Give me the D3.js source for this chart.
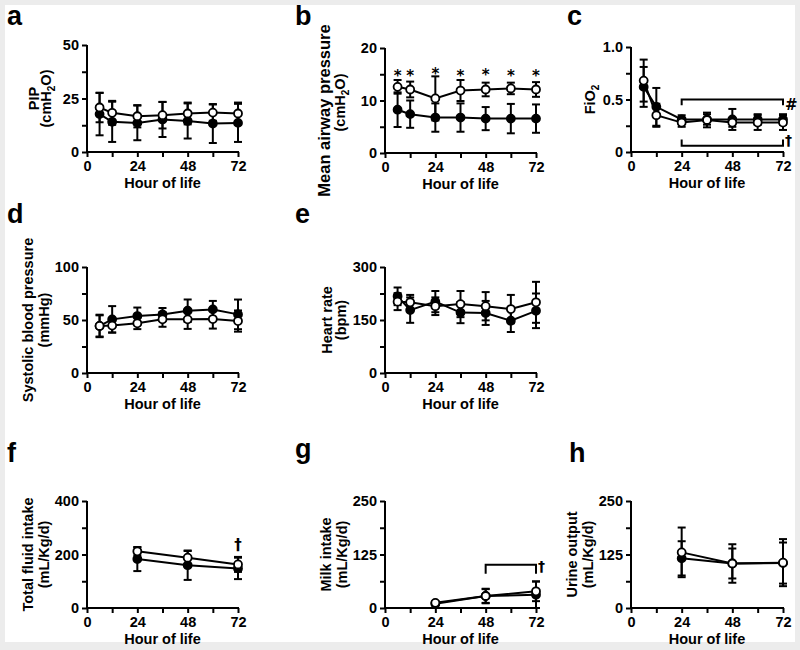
<!DOCTYPE html>
<html>
<head>
<meta charset="utf-8">
<script src="https://cdn.jsdelivr.net/npm/d3@7"></script>
<style>
  html, body { margin: 0; padding: 0; background: #ececec; }
  svg { display: block; }
  text { font-weight: bold; fill: #000; }
</style>
</head>
<body>
<svg id="chart" width="800" height="650"></svg>
<script>
// ---------------- DATA ----------------
const hours = [6, 12, 24, 36, 48, 60, 72];
const hoursDaily = [24, 48, 72];
const xTicks = [0, 12, 24, 36, 48, 60, 72];
const xTickLabels = [0, 24, 48, 72];

// a: PIP (cmH2O)
const pipOpen = [20.8, 18.3, 16.7, 17.2, 18.0, 18.4, 18.0];
const pipOpenSd = [6.9, 5.6, 5.2, 6.2, 5.1, 3.8, 5.1];
const pipFilled = [17.7, 14.1, 13.6, 15.2, 14.5, 13.3, 13.6];
const pipFilledSd = [9.9, 9.4, 8.1, 8.2, 8.2, 9.1, 8.9];
const pipTicks = [0, 25, 50];

// b: Mean airway pressure (cmH2O)
const mapOpen = [12.6, 12.1, 10.4, 11.9, 12.1, 12.3, 12.1];
const mapOpenSd = [1.3, 1.5, 4.2, 2.0, 1.3, 1.1, 1.4];
const mapFilled = [8.25, 7.4, 6.75, 6.75, 6.55, 6.55, 6.55];
const mapFilledSd = [3.3, 2.6, 2.7, 2.7, 2.2, 2.8, 2.7];
const mapStarHours = [6, 12, 24, 36, 48, 60, 72];
const mapStarLevel = [15.6, 15.6, 16.0, 15.6, 15.8, 15.6, 15.6];
const mapTicks = [0, 10, 20];

// c: FiO2
const fio2Open = [0.68, 0.35, 0.28, 0.305, 0.28, 0.28, 0.28];
const fio2OpenSd = [0.20, 0.11, 0.04, 0.07, 0.04, 0.07, 0.07];
const fio2Filled = [0.62, 0.43, 0.31, 0.31, 0.31, 0.31, 0.31];
const fio2FilledSd = [0.19, 0.18, 0.04, 0.05, 0.10, 0.05, 0.05];
const fio2Ticks = [0, 0.5, 1.0];
const fio2TickLabels = ["0", "0.5", "1.0"];

// d: Systolic blood pressure (mmHg)
const sbpOpen = [44.4, 44.7, 46.9, 50.6, 50.6, 50.9, 49.0];
const sbpOpenSd = [10.6, 6.5, 5.5, 7.0, 9.0, 9.0, 10.0];
const sbpFilled = [44.4, 50.6, 53.75, 55.3, 58.75, 60.0, 55.3];
const sbpFilledSd = [10.0, 12.5, 8.0, 6.0, 10.6, 8.0, 14.0];
const sbpTicks = [0, 50, 100];

// e: Heart rate (bpm)
const hrOpen = [202, 200, 189, 195, 189, 181, 200];
const hrOpenSd = [24, 21, 25, 37, 40, 40, 58];
const hrFilled = [217, 178, 202, 171, 170, 148, 176];
const hrFilledSd = [25, 36, 30, 30, 34, 32, 49];
const hrTicks = [0, 150, 300];

// f: Total fluid intake (mL/Kg/d)
const tfiOpen = [212, 188, 163];
const tfiOpenSd = [15, 25, 28];
const tfiFilled = [183, 160, 148];
const tfiFilledSd = [45, 55, 40];
const tfiTicks = [0, 200, 400];

// g: Milk intake (mL/Kg/d)
const milkOpen = [12, 28, 39];
const milkOpenSd = [4, 17, 23];
const milkFilled = [10, 28, 31];
const milkFilledSd = [4, 16, 31];
const milkTicks = [0, 125, 250];

// h: Urine output (mL/Kg/d)
const urineOpen = [130, 104, 106];
const urineOpenSd = [58, 45, 55];
const urineFilled = [116, 104, 105];
const urineFilledSd = [40, 35, 48];
const urineTicks = [0, 125, 250];

// ---------------- DRAW ----------------
const FONT = '"Liberation Sans", Arial, sans-serif';
const svg = d3.select("#chart").attr("font-family", FONT);
svg.append("rect").attr("x", 5).attr("y", 5).attr("width", 790).attr("height", 637).attr("fill", "#fff");

function panel(opt) {
  const g = svg.append("g");
  const x = d3.scaleLinear().domain([0, 72]).range([opt.left, opt.right]);
  const y = d3.scaleLinear().domain([0, opt.ticks[opt.ticks.length - 1]]).range([opt.bottom, opt.top]);

  const yTickVals = [];
  opt.ticks.forEach((t, i) => {
    yTickVals.push(t);
    if (i < opt.ticks.length - 1) yTickVals.push((t + opt.ticks[i + 1]) / 2);
  });
  const labelMap = new Map(opt.ticks.map((t, i) => [t, opt.tickLabels ? opt.tickLabels[i] : String(t)]));

  const yAxis = d3.axisLeft(y).tickValues(yTickVals).tickSizeInner(5).tickSizeOuter(0).tickPadding(3)
    .tickFormat(d => labelMap.has(d) ? labelMap.get(d) : "");
  const xAxis = d3.axisBottom(x).tickValues(xTicks).tickSizeInner(5).tickSizeOuter(0).tickPadding(4)
    .tickFormat(d => xTickLabels.includes(d) ? String(d) : "");

  const ya = g.append("g").attr("transform", `translate(${opt.left},0)`).call(yAxis);
  const xa = g.append("g").attr("transform", `translate(0,${opt.bottom})`).call(xAxis);
  [ya, xa].forEach(a => {
    a.attr("font-family", FONT);
    a.select(".domain").attr("stroke", "#000").attr("stroke-width", 2);
    a.selectAll(".tick line").attr("stroke", "#000").attr("stroke-width", 2);
    a.selectAll(".tick text").attr("font-size", 14.5).attr("fill", "#000");
  });
  ya.select(".domain").attr("d", `M0,${opt.bottom + 1}V${opt.top}`);
  xa.select(".domain").attr("d", `M-1,0H${opt.right - opt.left + 1}`).attr("transform", `translate(${opt.left},0)`);

  g.append("text").attr("x", (opt.left + opt.right) / 2).attr("y", opt.bottom + 36)
    .attr("text-anchor", "middle").attr("font-size", 14.5).text("Hour of life");

  const cyBase = (opt.top + opt.bottom) / 2;
  opt.ylab.forEach((line, i) => {
    const cy = cyBase + (opt.ylabDy ? opt.ylabDy[i] : 0);
    const fs = opt.ylabFs ? opt.ylabFs[i] : 14.5;
    const t = g.append("text").attr("transform", `translate(${opt.left + opt.ylabOff[i]},${cy}) rotate(-90)`)
      .attr("text-anchor", "middle").attr("font-size", fs);
    line.forEach(part => {
      if (part.sub) {
        t.append("tspan").attr("font-size", 10).attr("dy", 4).text(part.t);
      } else {
        const ts = t.append("tspan").text(part.t);
        if (part.after) ts.attr("dy", -4);
      }
    });
  });

  svg.append("text").attr("x", opt.lx).attr("y", opt.ly).attr("font-size", 27).text(opt.letter);

  const series = [
    { v: opt.filled, sd: opt.filledSd, fill: "#000" },
    { v: opt.open, sd: opt.openSd, fill: "#fff" }
  ];
  const line = d3.line().x(d => x(d[0])).y(d => y(d[1]));
  series.forEach(s => {
    const pts = opt.hours.map((h, i) => [h, s.v[i], s.sd[i]]);
    const sg = g.append("g");
    pts.forEach(p => {
      const xx = x(p[0]), y1 = y(p[1] + p[2]), y2 = y(Math.max(0, p[1] - p[2]));
      sg.append("line").attr("x1", xx).attr("x2", xx).attr("y1", y1).attr("y2", y2)
        .attr("stroke", "#000").attr("stroke-width", 2);
      [y1, y2].forEach(yy => sg.append("line").attr("x1", xx - 4).attr("x2", xx + 4)
        .attr("y1", yy).attr("y2", yy).attr("stroke", "#000").attr("stroke-width", 2));
    });
    sg.append("path").datum(pts).attr("d", line).attr("fill", "none")
      .attr("stroke", "#000").attr("stroke-width", 2);
    sg.selectAll("circle").data(pts).join("circle")
      .attr("cx", d => x(d[0])).attr("cy", d => y(d[1])).attr("r", 4)
      .attr("fill", s.fill).attr("stroke", "#000").attr("stroke-width", 1.8);
  });
  return { g, x, y };
}

const cmH2O = [{ t: "(cmH" }, { t: "2", sub: true }, { t: "O)", after: true }];
function symbol(p, xx, yy, sym, fs, anchor) {
  p.g.append("text").attr("x", xx).attr("y", yy).attr("text-anchor", anchor || "start")
    .attr("font-family", '"DejaVu Sans", sans-serif').attr("font-size", fs)
    .attr("fill", "#000").style("fill", "#000").text(sym);
}

// a
panel({ letter: "a", lx: 7, ly: 25, left: 87, right: 238, top: 45, bottom: 152,
  ticks: pipTicks, hours: hours, open: pipOpen, openSd: pipOpenSd, filled: pipFilled, filledSd: pipFilledSd,
  ylab: [[{ t: "PIP" }], cmH2O], ylabOff: [-48, -36] });

// b
const pb = panel({ letter: "b", lx: 295, ly: 25, left: 385, right: 536, top: 48, bottom: 153,
  ticks: mapTicks, hours: hours, open: mapOpen, openSd: mapOpenSd, filled: mapFilled, filledSd: mapFilledSd,
  ylab: [[{ t: "Mean airway pressure" }], cmH2O], ylabOff: [-55, -40], ylabFs: [16.5, 14.5], ylabDy: [10, 2] });
mapStarHours.forEach((h, i) => symbol(pb, pb.x(h), pb.y(mapStarLevel[i]) + 10, "*", 15, "middle"));

// c
const pc = panel({ letter: "c", lx: 567, ly: 25, left: 631, right: 783, top: 47, bottom: 152,
  ticks: fio2Ticks, tickLabels: fio2TickLabels, hours: hours, open: fio2Open, openSd: fio2OpenSd,
  filled: fio2Filled, filledSd: fio2FilledSd,
  ylab: [[{ t: "FiO" }, { t: "2", sub: true }]], ylabOff: [-36] });
function bracket(p, x1, x2, yv, ytip) {
  const yy = p.y(yv), yt = p.y(ytip);
  p.g.append("path").attr("d", `M${p.x(x1)},${yt}V${yy}H${p.x(x2)}V${yt}`)
    .attr("fill", "none").attr("stroke", "#000").attr("stroke-width", 2);
}
bracket(pc, 24, 72, 0.5, 0.445);
symbol(pc, pc.x(72) + 2, pc.y(0.5) + 10, "#", 15);
bracket(pc, 24, 72, 0.06, 0.12);
symbol(pc, pc.x(72) + 2, pc.y(0.06) - 1, "†", 14);

// d
panel({ letter: "d", lx: 7, ly: 223, left: 87, right: 238, top: 267, bottom: 373,
  ticks: sbpTicks, hours: hours, open: sbpOpen, openSd: sbpOpenSd, filled: sbpFilled, filledSd: sbpFilledSd,
  ylab: [[{ t: "Systolic blood pressure" }], [{ t: "(mmHg)" }]], ylabOff: [-54, -38] });

// e
panel({ letter: "e", lx: 295, ly: 223, left: 385, right: 536, top: 267, bottom: 373,
  ticks: hrTicks, hours: hours, open: hrOpen, openSd: hrOpenSd, filled: hrFilled, filledSd: hrFilledSd,
  ylab: [[{ t: "Heart rate" }], [{ t: "(bpm)" }]], ylabOff: [-53, -39] });

// f
const pf = panel({ letter: "f", lx: 7, ly: 462, left: 87, right: 238, top: 501, bottom: 608,
  ticks: tfiTicks, hours: hoursDaily, open: tfiOpen, openSd: tfiOpenSd, filled: tfiFilled, filledSd: tfiFilledSd,
  ylab: [[{ t: "Total fluid intake" }], [{ t: "(mL/Kg/d)" }]], ylabOff: [-54, -38] });
symbol(pf, pf.x(72), pf.y(239) + 6, "†", 15, "middle");

// g
const pg = panel({ letter: "g", lx: 295, ly: 458, left: 385, right: 536, top: 501, bottom: 608,
  ticks: milkTicks, hours: hoursDaily, open: milkOpen, openSd: milkOpenSd, filled: milkFilled, filledSd: milkFilledSd,
  ylab: [[{ t: "Milk intake" }], [{ t: "(mL/Kg/d)" }]], ylabOff: [-54, -38] });
bracket(pg, 48, 72, 101, 80);
symbol(pg, pg.x(72) + 2, pg.y(101) + 6, "†", 14);

// h
panel({ letter: "h", lx: 569, ly: 462, left: 631, right: 783, top: 501, bottom: 608,
  ticks: urineTicks, hours: hoursDaily, open: urineOpen, openSd: urineOpenSd, filled: urineFilled, filledSd: urineFilledSd,
  ylab: [[{ t: "Urine output" }], [{ t: "(mL/Kg/d)" }]], ylabOff: [-54, -38] });
</script>
</body>
</html>
